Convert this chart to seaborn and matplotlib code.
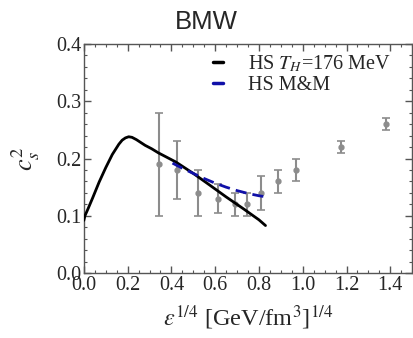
import matplotlib
matplotlib.use("Agg")
import matplotlib.pyplot as plt
import seaborn as sns
import numpy as np
import pandas as pd
from matplotlib.ticker import MultipleLocator

# Dados
eps_hs = [0.0, 0.005, 0.02, 0.04, 0.07, 0.10, 0.13, 0.16, 0.175, 0.19, 0.205, 0.22,
          0.24, 0.26, 0.28, 0.31, 0.34, 0.38, 0.42, 0.50, 0.57, 0.65, 0.73, 0.80, 0.83]
cs2_hs = [0.092, 0.100, 0.113, 0.131, 0.159, 0.184, 0.207, 0.225, 0.232, 0.236, 0.238, 0.237,
          0.233, 0.228, 0.223, 0.217, 0.210, 0.202, 0.194, 0.174, 0.155, 0.133, 0.112, 0.093, 0.083]

eps_mm = [0.405, 0.45, 0.50, 0.55, 0.60, 0.65, 0.70, 0.75, 0.80, 0.835]
cs2_mm = [0.192, 0.183, 0.174, 0.165, 0.157, 0.150, 0.144, 0.139, 0.135, 0.133]

eps_bmw = [0.345, 0.427, 0.523, 0.612, 0.690, 0.746, 0.810, 0.887, 0.968, 1.173, 1.380]
cs2_bmw = [0.190, 0.180, 0.140, 0.130, 0.120, 0.120, 0.140, 0.160, 0.180, 0.220, 0.260]
err_bmw = [0.090, 0.050, 0.040, 0.025, 0.020, 0.020, 0.030, 0.020, 0.020, 0.010, 0.010]

sns.set_style("ticks")
plt.rcParams['font.family'] = ['Liberation Serif', 'DejaVu Serif']
plt.rcParams['mathtext.fontset'] = 'stix'

fig = plt.figure(figsize=(4.13, 3.38), dpi=100)
ax = fig.add_axes([0.203, 0.192, 0.795, 0.678])

df_hs = pd.DataFrame({'eps': eps_hs, 'cs2': cs2_hs})
df_mm = pd.DataFrame({'eps': eps_mm, 'cs2': cs2_mm})

# pontos da rede (BMW)
ax.errorbar(eps_bmw, cs2_bmw, yerr=err_bmw, fmt='o', color='#8c8c8c',
            ms=3.5, elinewidth=1.5, capsize=3, capthick=1.2, zorder=2)

sns.lineplot(data=df_hs, x='eps', y='cs2', color='black', lw=2.0, ax=ax,
             label='HS $T_H$=176 MeV', sort=False, zorder=3)
sns.lineplot(data=df_mm, x='eps', y='cs2', color='#1010a8', lw=2.0, ax=ax,
             label='HS M&M', sort=False, zorder=4)
ax.lines[-1].set_dashes([4, 2.2])

ax.set_xlim(0, 1.5)
ax.set_ylim(0, 0.4)
ax.xaxis.set_major_locator(MultipleLocator(0.2))
ax.xaxis.set_minor_locator(MultipleLocator(0.05))
ax.yaxis.set_major_locator(MultipleLocator(0.1))
ax.yaxis.set_minor_locator(MultipleLocator(0.02))
ax.set_xticklabels([f"{v:.1f}" for v in ax.get_xticks()])
ax.set_yticklabels([f"{v:.1f}" for v in ax.get_yticks()])

frame = '#555555'
for s in ax.spines.values():
    s.set_visible(True)
    s.set_color(frame)
    s.set_linewidth(1.0)
ax.tick_params(which='both', direction='in', top=True, right=True,
               color=frame, labelsize=14.5, pad=2)
ax.tick_params(which='major', length=5, width=1.0)
ax.tick_params(which='minor', length=2.5, width=0.8)

ax.set_xlabel(r'$\epsilon^{1/4}$ [GeV/fm$^3$]$^{1/4}$', fontsize=17.5, labelpad=6)
ax.set_ylabel(r'$c_s^2$', fontsize=19, labelpad=10)

leg = ax.legend(loc='upper left', frameon=False, fontsize=14.5, handlelength=0.5,
                handletextpad=1.25, labelspacing=0.1, borderpad=0, borderaxespad=0,
                bbox_to_anchor=(0.393, 0.958))
for h in leg.get_lines():
    h.set_linestyle('-')
    h.set_linewidth(2.5)

fig.text(0.5, 0.935, 'BMW', ha='center', va='center', fontsize=18.5,
         family='Liberation Sans')

fig.savefig('out.png', dpi=100)
